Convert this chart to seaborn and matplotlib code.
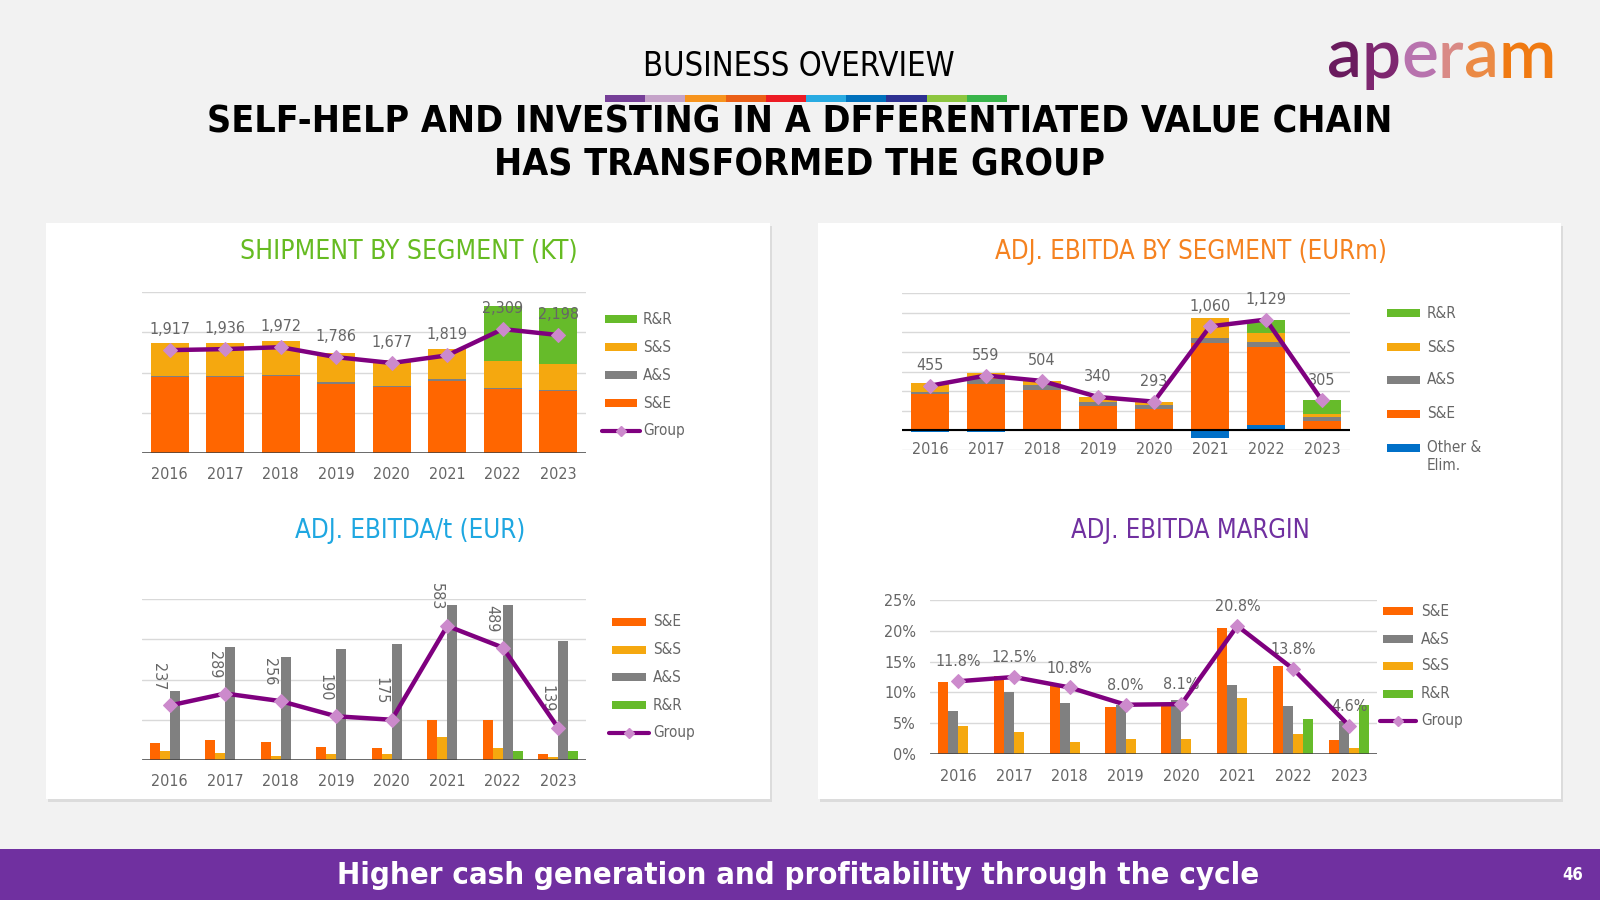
import numpy as np
import pandas as pd
import matplotlib
matplotlib.use("Agg")
import matplotlib.pyplot as plt
import seaborn as sns
from matplotlib import font_manager as fm
from matplotlib.patches import Rectangle
from matplotlib.lines import Line2D

# ---- data ----
years = ['2016', '2017', '2018', '2019', '2020', '2021', '2022', '2023']

# shipments by segment (kt)
ship_se = [944, 944, 960, 861, 820, 898, 795, 770]
ship_as = [12, 12, 12, 21, 17, 17, 12, 8]
ship_ss = [410, 410, 422, 356, 315, 373, 331, 323]
ship_rr = [0, 0, 0, 0, 0, 0, 691, 696]
ship_group = [1917, 1936, 1972, 1786, 1677, 1819, 2309, 2198]

# adj. EBITDA by segment (EURm)
eb_other = [-20, -20, 0, 0, 0, -78, 57, 0]
eb_se = [371, 472, 415, 245, 222, 890, 789, 91]
eb_as = [20, 54, 50, 48, 34, 47, 50, 50]
eb_ss = [94, 54, 40, 47, 37, 206, 94, 27]
eb_rr = [0, 0, 0, 0, 0, 0, 135, 140]
eb_group = [455, 559, 504, 340, 293, 1060, 1129, 305]

# adj. EBITDA per tonne (EUR)
ept_se = [207, 253, 224, 162, 145, 502, 502, 71]
ept_ss = [112, 87, 54, 71, 71, 286, 145, 33]
ept_as = [855, 1398, 1274, 1382, 1444, 1925, 1925, 1477]
ept_rr = [0, 0, 0, 0, 0, 0, 112, 112]
ept_group = [237, 289, 256, 190, 175, 583, 489, 139]

# adj. EBITDA margin (%)
mg_se = [11.7, 12.7, 11.1, 7.7, 7.8, 20.5, 14.3, 2.2]
mg_as = [6.9, 10.0, 8.3, 8.0, 8.8, 11.2, 7.8, 5.4]
mg_ss = [4.6, 3.5, 2.0, 2.4, 2.4, 9.1, 3.2, 1.0]
mg_rr = [0, 0, 0, 0, 0, 0, 5.7, 7.9]
mg_group = [11.8, 12.5, 10.8, 8.0, 8.1, 20.8, 13.8, 4.6]

# ---- colours ----
ORANGE = '#FF6600'
AMBER = '#F5A80F'
GREYBAR = '#808080'
GREEN = '#66BB2A'
BLUE = '#0070C8'
PURPLE = '#7F007F'
LILAC = '#CC8ACC'
TXT = '#666666'
GRID = '#D9D9D9'

# ---- fonts ----
names = {f.name for f in fm.fontManager.ttflist}
dv_cond = any(f.name == 'DejaVu Sans' and f.stretch == 'condensed' for f in fm.fontManager.ttflist)
if 'Liberation Sans Narrow' in names:
    FAM, STRETCH = 'Liberation Sans Narrow', 'normal'
elif dv_cond:
    FAM, STRETCH = 'DejaVu Sans', 'condensed'
else:
    FAM, STRETCH = 'Roboto', 'normal'

sns.set_theme(style='white')
plt.rcParams['font.family'] = [FAM, 'DejaVu Sans']
plt.rcParams['font.stretch'] = STRETCH

W, H = 1600, 900
fig = plt.figure(figsize=(16, 9), dpi=100, facecolor='#F2F2F2')
renderer = fig.canvas.get_renderer()


def fx(x):
    return x / W


def fy(y):
    return 1 - y / H


def add_ax(x0, y0, x1, y1):
    ax = fig.add_axes([fx(x0), fy(y1), (x1 - x0) / W, (y1 - y0) / H])
    ax.set_facecolor('none')
    return ax


def fit_text(x, y, s, width, size=None, **kw):
    t = fig.text(fx(x), fy(y), s, ha='center', va='center', fontsize=20, **kw)
    if size is None:
        w = t.get_window_extent(renderer=renderer).width
        size = 20 * width / w
    t.set_fontsize(size)
    return t


def style_ax(ax, lo, hi, step, pad):
    ax.set_ylim(lo, hi)
    ax.set_yticks(np.arange(lo, hi + step / 2, step))
    ax.yaxis.grid(True, color=GRID, lw=1)
    ax.set_axisbelow(True)
    for s in ax.spines.values():
        s.set_visible(False)
    ax.set_xticks(range(8))
    ax.set_xticklabels(years)
    ax.tick_params(axis='x', length=0, pad=pad, labelsize=11.5, labelcolor=TXT)
    ax.tick_params(axis='y', length=0)
    ax.set_xlabel('')
    ax.set_ylabel('')


def group_line(ax, vals):
    sns.lineplot(x=np.arange(8), y=vals, ax=ax, color=PURPLE, linewidth=3.2,
                 marker='D', markersize=7.5, markerfacecolor=LILAC,
                 markeredgecolor=LILAC, legend=False, zorder=5)


def legend(items, x0, x1, xt, ys):
    for (lab, col, kind), y in zip(items, ys):
        if kind == 'bar':
            fig.add_artist(Rectangle((fx(x0), fy(y + 3.8)), (x1 - x0) / W, 7.6 / H,
                                     transform=fig.transFigure, color=col, lw=0))
        else:
            fig.add_artist(Line2D([fx(x0 - 3), fx(x1 + 3)], [fy(y), fy(y)],
                                  transform=fig.transFigure, color=PURPLE, lw=3))
            fig.add_artist(Line2D([fx((x0 + x1) / 2)], [fy(y)], transform=fig.transFigure,
                                  marker='D', ms=5.5, color=LILAC, lw=0))
        for k, part in enumerate(lab.split('\n')):
            fig.text(fx(xt), fy(y + 17.5 * k), part, va='center', ha='left',
                     fontsize=11, color=TXT)


# ---- slide background pieces ----
for x0, x1 in [(46, 770), (818, 1561)]:
    fig.add_artist(Rectangle((fx(x0 + 2), fy(802)), (x1 - x0) / W, (799 - 223) / H,
                             transform=fig.transFigure, color='#DCDCDC', lw=0, zorder=-2))
    fig.add_artist(Rectangle((fx(x0), fy(799)), (x1 - x0) / W, (799 - 223) / H,
                             transform=fig.transFigure, color='white', lw=0, zorder=-1))
fig.add_artist(Rectangle((0, 0), 1, 51 / H, transform=fig.transFigure,
                         color='#7030A0', lw=0, zorder=-1))

stripe = ['#763F98', '#C5A3C9', '#F7941E', '#EB6017', '#ED1C24',
          '#29ABE2', '#0071BC', '#2E3192', '#8DC63F', '#39B54A']
sw = (1007 - 605) / len(stripe)
for i, c in enumerate(stripe):
    fig.add_artist(Rectangle((fx(605 + i * sw), fy(102)), sw / W, 7 / H,
                             transform=fig.transFigure, color=c, lw=0))

fit_text(799, 66, 'BUSINESS OVERVIEW', 312, color='black', fontweight='light')
t1 = fit_text(800, 122, 'SELF-HELP AND INVESTING IN A DFFERENTIATED VALUE CHAIN', 1180,
              color='black', fontweight='bold')
fit_text(800, 165, 'HAS TRANSFORMED THE GROUP', None, size=t1.get_fontsize(),
         color='black', fontweight='bold')
fit_text(798, 875, 'Higher cash generation and profitability through the cycle', 923,
         color='white', fontweight='bold')
fig.text(fx(1573), fy(875), '46', ha='center', va='center', fontsize=12,
         color='white', fontweight='bold')

# logo
logo_cols = ['#6A1B5E', '#7E2770', '#B873AE', '#D98A86', '#EB8A45', '#F07A12']
probe = fig.text(0, 0, 'aperam', fontsize=60, family='Lato', fontweight='semibold')
lw_ = probe.get_window_extent(renderer=renderer).width
probe.remove()
lsize = 60 * 229 / lw_
xx = 1327
for ch, c in zip('aperam', logo_cols):
    t = fig.text(fx(xx), fy(78), ch, ha='left', va='baseline', fontsize=lsize,
                 family='Lato', fontweight='semibold', color=c)
    xx += t.get_window_extent(renderer=renderer).width

# chart titles
fit_text(409, 252, 'SHIPMENT BY SEGMENT (KT)', 337, color='#66BB22')
fit_text(1191, 252, 'ADJ. EBITDA BY SEGMENT (EURm)', 392, color='#F58220')
fit_text(410, 531, 'ADJ. EBITDA/t (EUR)', 232, color='#1EA7E1')
fit_text(1190, 531, 'ADJ. EBITDA MARGIN', 240, color='#7030A0')

x = np.arange(8)

# ---- chart 1: shipments, stacked ----
ax1 = add_ax(142, 292, 586, 453)
bottom = np.zeros(8)
for vals, col in [(ship_se, ORANGE), (ship_as, GREYBAR), (ship_ss, AMBER), (ship_rr, GREEN)]:
    ax1.bar(x, vals, bottom=bottom, width=0.68, color=col, lw=0)
    bottom += np.array(vals)
style_ax(ax1, 0, 2000, 500, 10)
ax1.set_yticklabels([])
ax1.axhline(0, color='#404040', lw=1.8)
ax1b = ax1.twinx()
group_line(ax1b, ship_group)
ax1b.set_ylim(0, 3000)
ax1b.axis('off')
for i, v in enumerate(ship_group):
    ax1b.annotate(f'{v:,}', (i, v), xytext=(0, 15), textcoords='offset points',
                  ha='center', va='center', fontsize=11.5, color=TXT)
ax1.set_xlim(-0.5, 7.5)
legend([('R&R', GREEN, 'bar'), ('S&S', AMBER, 'bar'), ('A&S', GREYBAR, 'bar'),
        ('S&E', ORANGE, 'bar'), ('Group', PURPLE, 'line')],
       605, 637, 643, [319, 347, 375, 403, 431])

# ---- chart 2: EBITDA by segment, stacked with negatives ----
ax2 = add_ax(902, 293, 1350, 450)
other = np.array(eb_other)
ax2.bar(x, other, width=0.68, color=BLUE, lw=0)
bottom = np.clip(other, 0, None).astype(float)
for vals, col in [(eb_se, ORANGE), (eb_as, GREYBAR), (eb_ss, AMBER), (eb_rr, GREEN)]:
    ax2.bar(x, vals, bottom=bottom, width=0.68, color=col, lw=0)
    bottom += np.array(vals)
group_line(ax2, eb_group)
style_ax(ax2, -200, 1400, 200, -6)
ax2.set_yticklabels([])
ax2.axhline(0, color='black', lw=1.5)
for i, v in enumerate(eb_group):
    ax2.annotate(f'{v:,}', (i, v), xytext=(0, 14.5), textcoords='offset points',
                 ha='center', va='center', fontsize=11.5, color=TXT)
ax2.set_xlim(-0.5, 7.5)
legend([('R&R', GREEN, 'bar'), ('S&S', AMBER, 'bar'), ('A&S', GREYBAR, 'bar'),
        ('S&E', ORANGE, 'bar'), ('Other &\nElim.', BLUE, 'bar')],
       1387, 1420, 1427, [313, 347, 380, 414, 448])

# ---- chart 3: EBITDA/t, clustered ----
ax3 = add_ax(142, 599, 586, 760)
segs3 = ['S&E', 'S&S', 'A&S', 'R&R']
df3 = pd.DataFrame({'year': years * 4, 'segment': np.repeat(segs3, 8),
                    'value': ept_se + ept_ss + ept_as + ept_rr})
sns.barplot(data=df3, x='year', y='value', hue='segment', hue_order=segs3,
            palette=[ORANGE, AMBER, GREYBAR, GREEN], width=0.72, gap=0,
            saturation=1, legend=False, ax=ax3, linewidth=0)
style_ax(ax3, 0, 2000, 500, 10)
ax3.set_yticklabels([])
ax3.axhline(0, color='#404040', lw=1.8)
ax3b = ax3.twinx()
group_line(ax3b, ept_group)
ax3b.set_ylim(0, 700)
ax3b.axis('off')
for i, v in enumerate(ept_group):
    ax3b.annotate(f'{v}', (i, v), xytext=(-8, 11), textcoords='offset points',
                  rotation=270, ha='center', va='bottom', fontsize=11.5, color=TXT)
ax3.set_xlim(-0.5, 7.5)
legend([('S&E', ORANGE, 'bar'), ('S&S', AMBER, 'bar'), ('A&S', GREYBAR, 'bar'),
        ('R&R', GREEN, 'bar'), ('Group', PURPLE, 'line')],
       612, 646, 653, [622, 650, 677, 705, 733])

# ---- chart 4: EBITDA margin, clustered ----
ax4 = add_ax(930, 600, 1377, 754)
segs4 = ['S&E', 'A&S', 'S&S', 'R&R']
df4 = pd.DataFrame({'year': years * 4, 'segment': np.repeat(segs4, 8),
                    'value': mg_se + mg_as + mg_ss + mg_rr})
sns.barplot(data=df4, x='year', y='value', hue='segment', hue_order=segs4,
            palette=[ORANGE, GREYBAR, AMBER, GREEN], width=0.72, gap=0,
            saturation=1, legend=False, ax=ax4, linewidth=0)
group_line(ax4, mg_group)
style_ax(ax4, 0, 25, 5, 11)
ax4.set_yticklabels([f'{v}%' for v in range(0, 30, 5)])
ax4.tick_params(axis='y', pad=10, labelsize=11.5, labelcolor=TXT)
ax4.axhline(0, color='#404040', lw=1.8)
for i, v in enumerate(mg_group):
    ax4.annotate(f'{v:.1f}%', (i, v), xytext=(0, 14), textcoords='offset points',
                 ha='center', va='center', fontsize=11.5, color=TXT)
ax4.set_xlim(-0.5, 7.5)
legend([('S&E', ORANGE, 'bar'), ('A&S', GREYBAR, 'bar'), ('S&S', AMBER, 'bar'),
        ('R&R', GREEN, 'bar'), ('Group', PURPLE, 'line')],
       1383, 1413, 1421, [611, 639, 666, 694, 721])

fig.savefig('out.png', dpi=100, facecolor=fig.get_facecolor())
